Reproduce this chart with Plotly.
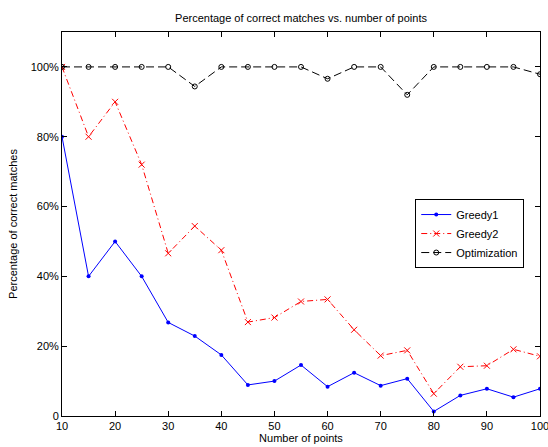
import plotly.graph_objects as go

# Number of points used in each experiment
num_points = [10, 15, 20, 25, 30, 35, 40, 45, 50, 55, 60, 65, 70, 75, 80, 85, 90, 95, 100]

# Fraction of correct matches per method
greedy1 = [0.80, 0.40, 0.50, 0.40, 0.268, 0.229, 0.175, 0.089, 0.100, 0.146, 0.084,
           0.124, 0.087, 0.107, 0.013, 0.059, 0.078, 0.054, 0.078]
greedy2 = [1.00, 0.80, 0.90, 0.72, 0.466, 0.544, 0.475, 0.269, 0.282, 0.328, 0.334,
           0.247, 0.173, 0.188, 0.064, 0.141, 0.144, 0.191, 0.171]
optimization = [1.00, 1.00, 1.00, 1.00, 1.00, 0.944, 1.00, 1.00, 1.00, 1.00, 0.966,
                1.00, 1.00, 0.92, 1.00, 1.00, 1.00, 1.00, 0.979]

x_ticks = [10, 20, 30, 40, 50, 60, 70, 80, 90, 100]
y_ticks = [0, 0.2, 0.4, 0.6, 0.8, 1.0]
y_tick_labels = ["0", "20%", "40%", "60%", "80%", "100%"]

font_family = "Liberation Sans, Arial, sans-serif"

fig = go.Figure()
fig.add_trace(go.Scatter(
    x=num_points, y=greedy1, name="Greedy1", mode="lines+markers",
    line=dict(color="#0000ff", width=1),
    marker=dict(symbol="circle", size=4, color="#0000ff"),
))
fig.add_trace(go.Scatter(
    x=num_points, y=greedy2, name="Greedy2", mode="lines+markers",
    line=dict(color="#ff0000", width=1, dash="6px,3px,1px,3px"),
    marker=dict(symbol="x-thin", size=6, line=dict(color="#ff0000", width=1)),
))
fig.add_trace(go.Scatter(
    x=num_points, y=optimization, name="Optimization", mode="lines+markers",
    line=dict(color="#000000", width=1, dash="8px,4px"),
    marker=dict(symbol="circle-open", size=5, color="#000000", line=dict(width=1)),
))

axis_common = dict(
    showline=True, linecolor="black", linewidth=1, mirror="ticks",
    ticks="inside", ticklen=5, tickcolor="black", showgrid=False, zeroline=False,
    tickfont=dict(family=font_family, size=11, color="black"),
    ticklabeloverflow="allow", automargin=False,
)

fig.update_layout(
    width=548, height=447,
    paper_bgcolor="white", plot_bgcolor="white",
    margin=dict(l=62, r=8, t=32, b=31),
    font=dict(family=font_family, size=11, color="black"),
    title=dict(text="Percentage of correct matches vs. number of points",
               x=(62 + 540) / 2 / 548, xanchor="center", y=1 - 18 / 447, yanchor="middle",
               font=dict(size=11, family=font_family, color="black")),
    xaxis=dict(range=[10, 100], tickvals=x_ticks,
               title=dict(text="Number of points", standoff=2,
                          font=dict(size=11, family=font_family)),
               **axis_common),
    yaxis=dict(range=[0, 1.1], tickvals=y_ticks, ticktext=y_tick_labels,
               title=dict(text="Percentage of correct matches", standoff=10,
                          font=dict(size=11, family=font_family)),
               **axis_common),
    legend=dict(x=0.739, y=0.565, xanchor="left", yanchor="top",
                bordercolor="black", borderwidth=1, bgcolor="white",
                font=dict(size=11, family=font_family), tracegroupgap=0,
                itemwidth=30),
    showlegend=True,
)

fig.write_html("out.html")
